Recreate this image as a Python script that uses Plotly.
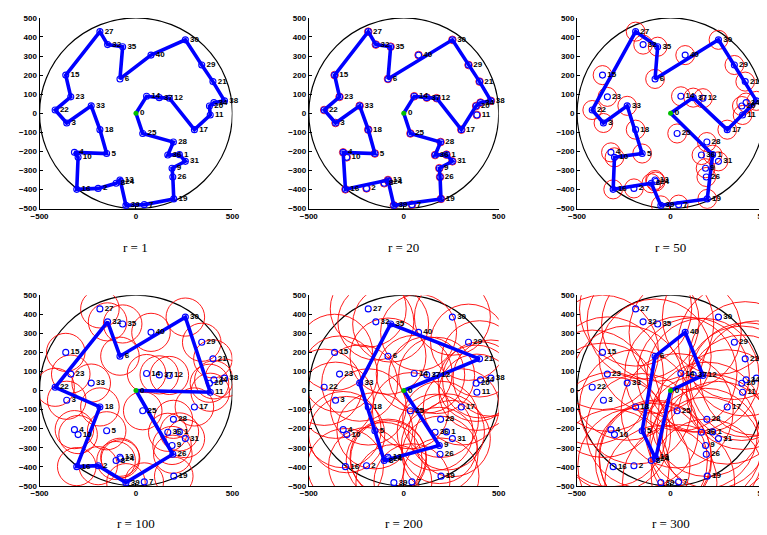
import plotly.graph_objects as go

# ---- data ----
point_ids = list(range(41))
point_x = [0, 225, -196, -359, -319, -152, -83, 43, -103, 187, -300, 385, 173, -83, 55, -364,
           -307, 303, -187, 196, 381, 399, -419, -338, -80, 35, 191, -187, 194, 341, 256, 256,
           -147, -232, 404, -69, 165, 121, 459, -52, 78]
point_y = [0, -217, -394, -51, -205, -211, 180, -479, -367, -288, -231, -9, 79, -350, 89, 200,
           -399, -86, -86, -449, 38, 166, 17, 86, -358, -106, -334, 428, -151, 253, 385, -252,
           360, 39, 56, 349, -219, 82, 65, -483, 305]
radii = [1, 20, 50, 100, 200, 300]
titles = ["r = 1", "r = 20", "r = 50", "r = 100", "r = 200", "r = 300"]
tours = [
    [0, 14, 37, 12, 17, 11, 20, 34, 38, 21, 29, 30, 40, 6, 35, 32, 27, 15, 23, 22, 3, 33, 18, 5, 4, 10,
     16, 2, 8, 13, 24, 39, 7, 19, 26, 9, 31, 1, 36, 28, 25, 0],
    [0, 14, 37, 12, 17, 20, 34, 38, 21, 29, 30, 6, 35, 32, 27, 15, 23, 22, 3, 33, 18, 5, 4, 16, 13, 39,
     19, 26, 9, 31, 1, 36, 28, 25, 0],
    [0, 37, 17, 38, 30, 6, 35, 27, 22, 3, 33, 5, 10, 16, 8, 39, 19, 1, 0],
    [0, 11, 30, 6, 32, 22, 18, 16, 2, 39, 26, 0],
    [0, 21, 35, 33, 8, 9, 0],
    [0, 12, 40, 6, 5, 24, 0],
]
region_radius = 500
x_ticks = [-500, 0, 500]
y_ticks = [-500, -400, -300, -200, -100, 0, 100, 200, 300, 400, 500]

# ---- layout geometry (pixels) ----
W, H = 767, 535
col_px = [(23, 220), (298, 492), (572, 763)]
row_px = [(6, 200), (288, 482)]
title_y_px = [240, 520]

fig = go.Figure()
shapes = []
annotations = []
layout_axes = {}

for k in range(6):
    row, col = divmod(k, 3)
    n = k + 1
    xa = "x" if n == 1 else f"x{n}"
    ya = "y" if n == 1 else f"y{n}"
    xname = "xaxis" if n == 1 else f"xaxis{n}"
    yname = "yaxis" if n == 1 else f"yaxis{n}"
    x0p, x1p = col_px[col]
    y0p, y1p = row_px[row]
    dom_x = [x0p / W, x1p / W]
    dom_y = [1 - y1p / H, 1 - y0p / H]
    tickfont = dict(family="Liberation Sans", size=8, color="black", weight="bold")
    layout_axes[xname] = dict(domain=dom_x, range=[-500, 500], anchor=ya, showgrid=False,
                              zeroline=False, showline=True, linecolor="black", linewidth=1,
                              ticks="inside", ticklen=3, tickcolor="black", tickvals=x_ticks,
                              tickfont=tickfont, fixedrange=True)
    layout_axes[yname] = dict(domain=dom_y, range=[-500, 500], anchor=xa, showgrid=False,
                              zeroline=False, showline=True, linecolor="black", linewidth=1,
                              ticks="inside", ticklen=3, tickcolor="black", tickvals=y_ticks,
                              tickfont=tickfont, fixedrange=True)

    r = radii[k]
    # region boundary
    shapes.append(dict(type="circle", xref=xa, yref=ya, x0=-region_radius, x1=region_radius,
                       y0=-region_radius, y1=region_radius, line=dict(color="black", width=1.2),
                       layer="below"))
    # red neighbourhood circles
    for i in point_ids[1:]:
        shapes.append(dict(type="circle", xref=xa, yref=ya,
                           x0=point_x[i] - r, x1=point_x[i] + r,
                           y0=point_y[i] - r, y1=point_y[i] + r,
                           line=dict(color="red", width=0.9), layer="below"))

    # tour path
    t = tours[k]
    fig.add_trace(go.Scatter(x=[point_x[i] for i in t], y=[point_y[i] for i in t], mode="lines",
                             line=dict(color="#0000ff", width=3.6), xaxis=xa, yaxis=ya,
                             hoverinfo="skip", showlegend=False))
    # points with labels
    fig.add_trace(go.Scatter(x=point_x[1:], y=point_y[1:], mode="markers+text",
                             text=[str(i) for i in point_ids[1:]], textposition="middle right",
                             textfont=dict(family="Liberation Sans", size=8, color="black", weight="bold"),
                             marker=dict(symbol="circle-open", size=6, color="#0000ff", line=dict(width=1.1)),
                             xaxis=xa, yaxis=ya, cliponaxis=False, showlegend=False))
    # depot
    fig.add_trace(go.Scatter(x=[point_x[0]], y=[point_y[0]], mode="markers+text",
                             text=["0"], textposition="middle right",
                             textfont=dict(family="Liberation Sans", size=8, color="black", weight="bold"),
                             marker=dict(symbol="circle", size=5, color="#00c000"),
                             xaxis=xa, yaxis=ya, cliponaxis=False, showlegend=False))

    annotations.append(dict(text=titles[k], xref="paper", yref="paper",
                            x=(x0p + x1p) / 2 / W, y=1 - title_y_px[row] / H,
                            showarrow=False, xanchor="center", yanchor="middle",
                            font=dict(family="Liberation Serif", size=13, color="black")))

fig.update_layout(width=W, height=H, margin=dict(l=0, r=0, t=0, b=0), autosize=False,
                  plot_bgcolor="white", paper_bgcolor="white", showlegend=False,
                  shapes=shapes, annotations=annotations, **layout_axes)

fig.write_html("out.html")
